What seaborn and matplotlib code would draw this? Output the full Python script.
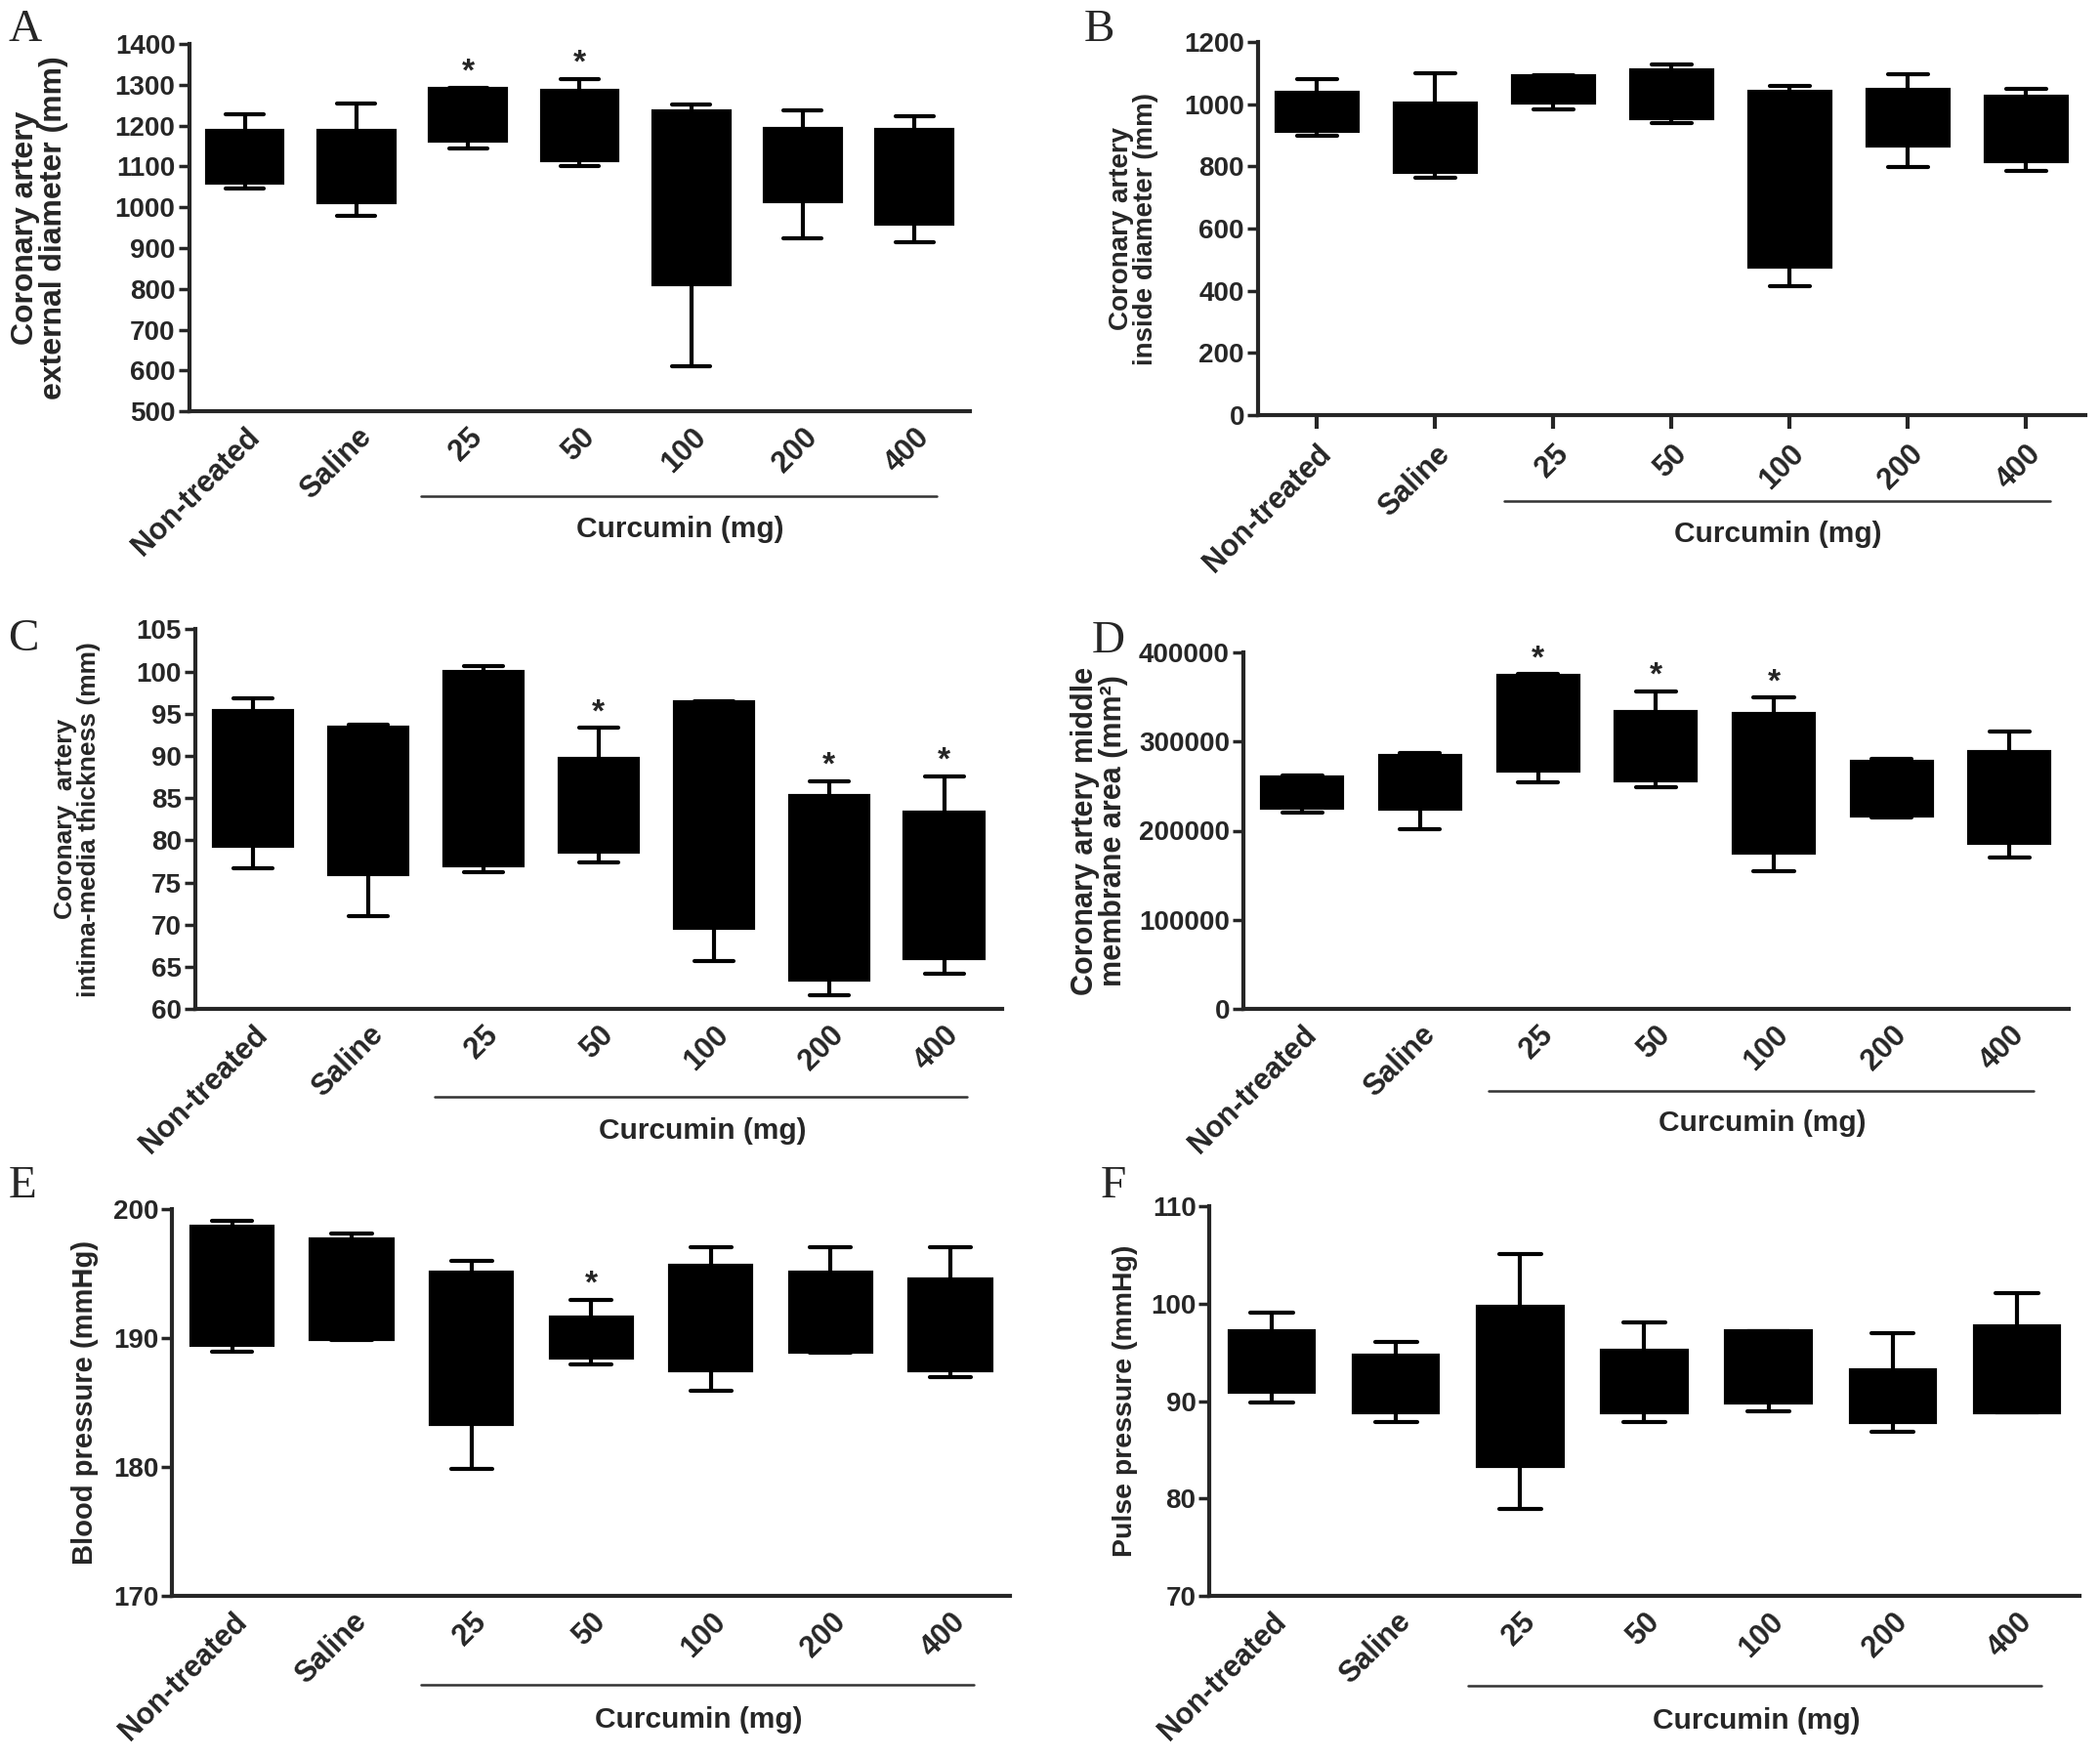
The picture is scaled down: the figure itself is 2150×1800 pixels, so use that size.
import matplotlib
matplotlib.use("Agg")
import matplotlib.pyplot as plt
import numpy as np
import pandas as pd
import seaborn as sns

# groups on the x axis
groups = ["Non-treated", "Saline", "25", "50", "100", "200", "400"]

# each group: min, q1, median, q3, max
ext_diameter = [
    [1045, 1061, 1109, 1186, 1227],
    [980, 1012, 1061, 1188, 1253],
    [1143, 1162, 1223, 1291, 1293],
    [1100, 1115, 1223, 1285, 1314],
    [611, 812, 1164, 1236, 1252],
    [925, 1014, 1123, 1193, 1237],
    [914, 961, 1080, 1189, 1223],
]
inside_diameter = [
    [898, 915, 961, 1038, 1080],
    [763, 782, 870, 1001, 1101],
    [985, 1006, 1064, 1090, 1093],
    [940, 955, 1052, 1108, 1127],
    [413, 476, 945, 1040, 1058],
    [797, 866, 973, 1046, 1098],
    [785, 818, 931, 1024, 1049],
]
imt = [
    [76.7, 79.4, 86.9, 95.3, 96.8],
    [71.0, 76.0, 91.7, 93.4, 93.7],
    [76.2, 77.0, 80.8, 99.9, 100.7],
    [77.4, 78.7, 83.0, 89.6, 93.3],
    [65.75, 69.6, 82.8, 96.4, 96.5],
    [61.7, 63.5, 72.1, 85.2, 87.0],
    [64.2, 66.0, 75.6, 83.3, 87.6],
]
membrane_area = [
    [220100, 225800, 241000, 259600, 261600],
    [201400, 225000, 251000, 284000, 286900],
    [254700, 267000, 286000, 373500, 375600],
    [248200, 256400, 298000, 332900, 356500],
    [154600, 175000, 260000, 330800, 349000],
    [214400, 216900, 251000, 277000, 280000],
    [170000, 186000, 237000, 287700, 311300],
]
blood_pressure = [
    [189.0, 189.5, 192.9, 198.7, 199.1],
    [189.9, 189.95, 192.0, 197.7, 198.1],
    [179.9, 183.4, 189.5, 195.1, 196.0],
    [188.0, 188.5, 189.8, 191.6, 193.0],
    [185.95, 187.5, 190.1, 195.6, 197.05],
    [188.9, 189.0, 190.5, 195.1, 197.05],
    [187.0, 187.5, 189.5, 194.6, 197.05],
]
pulse_pressure = [
    [89.9, 90.95, 93.0, 97.2, 99.05],
    [87.9, 88.9, 92.0, 94.7, 96.1],
    [78.9, 83.4, 89.95, 99.7, 105.1],
    [87.9, 88.9, 89.95, 95.2, 98.05],
    [88.95, 89.9, 93.0, 97.2, 97.2],
    [86.9, 87.9, 91.0, 93.15, 97.0],
    [88.9, 88.9, 91.6, 97.7, 101.05],
]

# significance stars per panel
stars_a = ["25", "50"]
stars_c = ["50", "200", "400"]
stars_d = ["25", "50", "100"]
stars_e = ["50"]

panels = [
    # letter, data, ylabel, label size, ylim, step, stars, axes rect, label x, letter pos, x ticks
    ("A", ext_diameter, "Coronary artery\nexternal diameter (mm)", 23, (500, 1400), 100, stars_a,
     [0.090, 0.766, 0.372, 0.209], -0.155, (0.004, 0.995), False),
    ("B", inside_diameter, "Coronary artery\ninside diameter (mm)", 20, (0, 1200), 200, [],
     [0.599, 0.764, 0.394, 0.212], -0.12, (0.516, 0.995), True),
    ("C", imt, "Coronary  artery\nintima-media thickness (mm)", 19, (60, 105), 5, stars_c,
     [0.093, 0.426, 0.384, 0.216], -0.118, (0.004, 0.648), False),
    ("D", membrane_area, "Coronary artery middle\nmembrane area (mm²)", 22, (0, 400000), 100000, stars_d,
     [0.592, 0.426, 0.393, 0.203], -0.14, (0.520, 0.647), False),
    ("E", blood_pressure, "Blood pressure (mmHg)", 21, (170, 200), 10, stars_e,
     [0.082, 0.092, 0.399, 0.220], -0.088, (0.004, 0.337), False),
    ("F", pulse_pressure, "Pulse pressure (mmHg)", 20.5, (70, 110), 10, [],
     [0.576, 0.092, 0.414, 0.222], -0.082, (0.524, 0.337), False),
]

sns.set_style("ticks")
plt.rcParams["font.family"] = ["Liberation Sans", "DejaVu Sans"]
plt.rcParams["font.weight"] = "bold"
plt.rcParams["axes.labelweight"] = "bold"

fig = plt.figure(figsize=(21.5, 18), dpi=100)

for letter, values, ylabel, lsize, ylim, step, stars, rect, labx, lpos, xticks in panels:
    ax = fig.add_axes(rect)
    df = pd.DataFrame(
        [(g, v) for g, vals in zip(groups, values) for v in vals],
        columns=["group", "value"],
    )
    sns.boxplot(data=df, x="group", y="value", order=groups, ax=ax,
                color="black", linecolor="black", width=0.68, whis=(0, 100),
                linewidth=3, fliersize=0, saturation=1)
    ax.set_xlim(-0.5, 6.5)
    ax.set_ylim(*ylim)
    ax.set_yticks(np.arange(ylim[0], ylim[1] + step, step))
    ax.ticklabel_format(style="plain", axis="y")
    for s in ["left", "bottom"]:
        ax.spines[s].set_linewidth(3)
    sns.despine(ax=ax)
    ax.tick_params(axis="y", length=8, width=2.5, labelsize=20, pad=2)
    ax.tick_params(axis="x", length=10 if xticks else 0, width=3, labelsize=22, pad=8)
    plt.setp(ax.get_xticklabels(), rotation=45, ha="right", rotation_mode="anchor")
    ax.set_xlabel("")
    ax.set_ylabel(ylabel, fontsize=lsize, linespacing=0.95)
    ax.yaxis.set_label_coords(labx, 0.5)

    # stars above the whiskers
    for g in stars:
        i = groups.index(g)
        ax.annotate("*", xy=(i, max(values[i])), xytext=(0, 0), textcoords="offset points",
                    ha="center", va="bottom", fontsize=24)

    # curcumin bracket under the dose labels
    tr = ax.get_xaxis_transform()
    ax.plot([1.58, 6.2], [-0.23, -0.23], transform=tr, clip_on=False, color="#333333", lw=1.8)
    ax.text(3.9, -0.32, "Curcumin (mg)", transform=tr, ha="center", va="center", fontsize=21.5)

    fig.text(lpos[0], lpos[1], letter, family="Liberation Serif", weight="normal",
             fontsize=34, ha="left", va="top")

fig.savefig("out.png", dpi=100, facecolor="white")
